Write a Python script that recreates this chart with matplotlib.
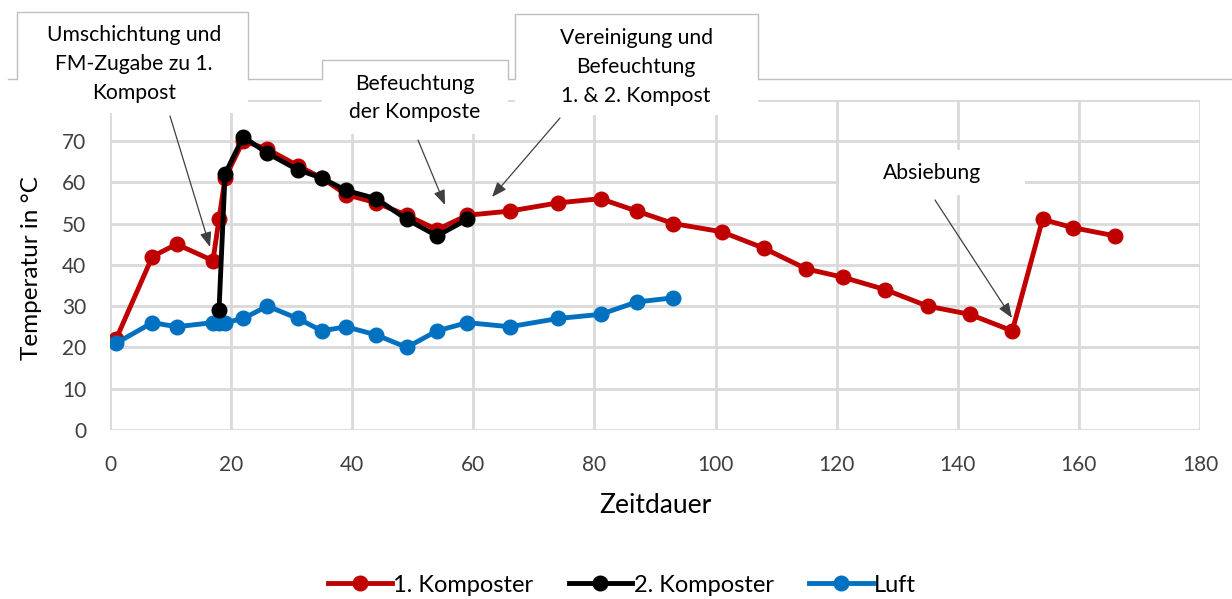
import matplotlib
matplotlib.use("Agg")
import matplotlib.pyplot as plt
from matplotlib.patches import Rectangle
from matplotlib.lines import Line2D

# ---------------- data ----------------
x_k1 = [1, 7, 11, 17, 18, 19, 22, 26, 31, 35, 39, 44, 49, 54, 59, 66, 74, 81, 87, 93,
        101, 108, 115, 121, 128, 135, 142, 149, 154, 159, 166]
y_k1 = [22, 42, 45, 41, 51, 61, 70, 68, 64, 61, 57, 55, 52, 48.5, 52, 53, 55, 56, 53, 50,
        48, 44, 39, 37, 34, 30, 28, 24, 51, 49, 47]

x_k2 = [18, 19, 22, 26, 31, 35, 39, 44, 49, 54, 59]
y_k2 = [29, 62, 71, 67, 63, 61, 58, 56, 51, 47, 51]

x_luft = [1, 7, 11, 17, 18, 19, 22, 26, 31, 35, 39, 44, 49, 54, 59, 66, 74, 81, 87, 93]
y_luft = [21, 26, 25, 26, 26, 26, 27, 30, 27, 24, 25, 23, 20, 24, 26, 25, 27, 28, 31, 32]

series_names = ["1. Komposter", "2. Komposter", "Luft"]
x_ticks = list(range(0, 181, 20))
y_ticks = list(range(0, 81, 10))
y_tick_labels = [str(v) for v in range(0, 71, 10)] + [""]

annotations = [
    "Umschichtung und\nFM-Zugabe zu 1.\nKompost",
    "Befeuchtung\nder Komposte",
    "Vereinigung und\nBefeuchtung\n1. & 2. Kompost",
    "Absiebung",
]

RED = "#C00000"
BLACK = "#000000"
BLUE = "#0070C0"
GRID = "#D9D9D9"
TXT = "#404040"

W, H = 1232, 599
fig = plt.figure(figsize=(W / 100, H / 100), dpi=100)
fig.patch.set_facecolor("white")

L, R, B, T = 110, 1200, 430, 99.6
ax = fig.add_axes([L / W, (H - B) / H, (R - L) / W, (B - T) / H])
ax.set_xlim(0, 180)
ax.set_ylim(0, 80)
ax.set_xticks(x_ticks)
ax.set_yticks(y_ticks)
ax.set_yticklabels(y_tick_labels)
ax.grid(True, color=GRID, linewidth=2, zorder=0)
for s in ax.spines.values():
    s.set_visible(False)
ax.tick_params(length=0, labelsize=15, labelcolor=TXT)
ax.tick_params(axis="x", pad=18)
ax.tick_params(axis="y", pad=17)
for lab in ax.get_xticklabels() + ax.get_yticklabels():
    lab.set_fontfamily("Lato")

lw, ms = 3.5, 10.5
ax.plot(x_k1, y_k1, color=RED, lw=lw, marker="o", ms=ms, zorder=3, label=series_names[0])
ax.plot(x_k2, y_k2, color=BLACK, lw=lw, marker="o", ms=ms, zorder=4, label=series_names[1])
ax.plot(x_luft, y_luft, color=BLUE, lw=lw, marker="o", ms=ms, zorder=3, label=series_names[2])

ax.set_ylabel("Temperatur in °C", fontsize=17.5, fontfamily="Lato", color="#000000")
ax.yaxis.set_label_coords(-0.062, 0.49)
ax.set_xlabel("Zeitdauer", fontsize=19, fontfamily="Lato", color="#000000")
ax.xaxis.set_label_coords(0.5, -0.19)

handles = [Line2D([0], [0], color=c, lw=lw, marker="o", ms=ms) for c in (RED, BLACK, BLUE)]
fig.legend(handles, series_names, loc="center", bbox_to_anchor=(622 / W, 1 - 585 / H),
           ncol=3, frameon=False, handlelength=2.7, handletextpad=0.05, columnspacing=1.5,
           prop={"family": "Lato", "size": 17})

# ---------------- overlay (pixel coordinates) ----------------
ov = fig.add_axes([0, 0, 1, 1])
ov.set_xlim(0, W)
ov.set_ylim(H, 0)
ov.axis("off")
ov.patch.set_alpha(0)

BORDER = "#BFBFBF"
ov.plot([8, W], [79, 79], color=BORDER, lw=1)
boxes = [(17, 12, 248, 113), (322, 60, 508, 134), (515, 14, 758, 115)]
for (x0, y0, x1, y1) in boxes:
    ov.add_patch(Rectangle((x0, y0), x1 - x0, y1 - y0, facecolor="white", edgecolor="none", zorder=2))
    ov.plot([x0, x0, x1, x1], [79, y0, y0, 79], color=BORDER, lw=1, zorder=3)
ov.add_patch(Rectangle((839, 150), 1025 - 839, 45, facecolor="white", edgecolor="none", zorder=2))

afont = dict(family="Lato", size=15.2, color="#000000", ha="center", va="center",
             linespacing=1.55, zorder=4)
ov.text(134, 64, annotations[0], **afont)
ov.text(415, 98, annotations[1], **afont)
ov.text(636, 67, annotations[2], **afont)
ov.text(932, 173, annotations[3], **afont)

arrows = [((170, 116), (210, 247)), ((418, 140), (445, 205)),
          ((560, 118), (492, 197)), ((935, 200), (1012, 318))]
for (p0, p1) in arrows:
    ov.annotate("", xy=p1, xytext=p0,
                arrowprops=dict(arrowstyle="-|>,head_length=0.9,head_width=0.35",
                                color="#404040", lw=0.9, shrinkA=0, shrinkB=0), zorder=5)

fig.savefig("out.png", dpi=100, facecolor="white")
